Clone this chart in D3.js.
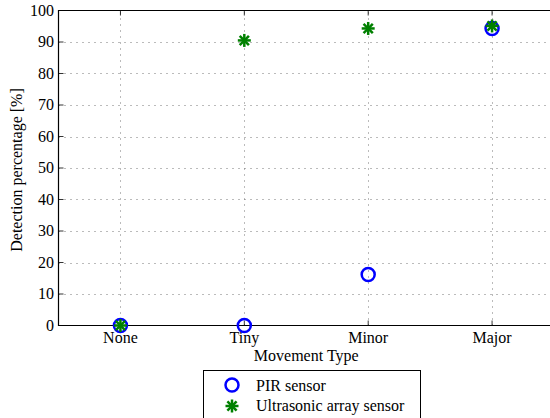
<!DOCTYPE html>
<html>
<head>
<meta charset="utf-8">
<script src="https://cdn.jsdelivr.net/npm/d3@7"></script>
<style>
  body { margin: 0; background: #fff; }
  svg { display: block; }
  svg text { font-family: "Liberation Serif", "Times New Roman", "DejaVu Serif", serif; }
</style>
</head>
<body>
<svg id="chart" width="550" height="418"></svg>
<script>
const categories = ["None", "Tiny", "Minor", "Major"];
const pirValues = [0, 0, 16.2, 94.3];
const ultrasonicValues = [0, 90.5, 94.3, 95.1];
const yTicks = [0, 10, 20, 30, 40, 50, 60, 70, 80, 90, 100];

const width = 550, height = 418;
const margin = { top: 10.5, right: -4, bottom: 92, left: 58.5 };
const fontSize = 16;

const svg = d3.select("#chart");

const x = d3.scaleLinear()
    .domain([0.5, categories.length + 0.5])
    .range([margin.left, width - margin.right]);

const y = d3.scaleLinear()
    .domain([0, 100])
    .range([height - margin.bottom - 0.5, margin.top]);

// grid lines
const grid = svg.append("g")
    .attr("stroke", "#777")
    .attr("stroke-width", 1)
    .attr("stroke-dasharray", "1,5");

grid.selectAll("line.h")
  .data(yTicks.slice(1, -1))
  .join("line")
    .attr("x1", margin.left)
    .attr("x2", width - margin.right)
    .attr("y1", d => Math.round(y(d)) + 0.5)
    .attr("y2", d => Math.round(y(d)) + 0.5);

grid.selectAll("line.v")
  .data(categories)
  .join("line")
    .attr("x1", (d, i) => Math.round(x(i + 1)) + 0.5)
    .attr("x2", (d, i) => Math.round(x(i + 1)) + 0.5)
    .attr("y1", y(0))
    .attr("y2", y(100));

// axis frame
const frame = svg.append("g")
    .attr("stroke", "#000")
    .attr("stroke-width", 1.2)
    .attr("fill", "none");

frame.append("path")
    .attr("d", `M${width - margin.right},${y(100)}H${margin.left}V${y(0)}H${width - margin.right}`);

// y ticks (inside)
frame.selectAll("line.yt")
  .data(yTicks)
  .join("line")
    .attr("x1", margin.left)
    .attr("x2", margin.left + 5)
    .attr("y1", d => y(d))
    .attr("y2", d => y(d))
    .attr("stroke-width", 0.8);

// x ticks (inside, top and bottom)
categories.forEach((c, i) => {
  frame.append("line")
      .attr("x1", x(i + 1)).attr("x2", x(i + 1))
      .attr("y1", y(0)).attr("y2", y(0) - 5)
      .attr("stroke-width", 0.8);
  frame.append("line")
      .attr("x1", x(i + 1)).attr("x2", x(i + 1))
      .attr("y1", y(100)).attr("y2", y(100) + 5)
      .attr("stroke-width", 0.8);
});

// tick labels
svg.append("g")
    .attr("font-size", fontSize)
    .attr("text-anchor", "end")
  .selectAll("text")
  .data(yTicks)
  .join("text")
    .attr("x", margin.left - 4.5)
    .attr("y", d => y(d) + 5)
    .text(d => d);

svg.append("g")
    .attr("font-size", fontSize)
    .attr("text-anchor", "middle")
  .selectAll("text")
  .data(categories)
  .join("text")
    .attr("x", (d, i) => x(i + 1))
    .attr("y", y(0) + 17)
    .text(d => d);

// axis titles
svg.append("text")
    .attr("x", (margin.left + width - margin.right) / 2)
    .attr("y", y(0) + 35)
    .attr("text-anchor", "middle")
    .attr("font-size", fontSize)
    .text("Movement Type");

svg.append("text")
    .attr("transform", `translate(21.5,${(y(0) + y(100)) / 2 + 2}) rotate(-90)`)
    .attr("text-anchor", "middle")
    .attr("font-size", fontSize)
    .text("Detection percentage [%]");

// markers
const circleR = 6.5;
const starR = 6.5;

function star(g, cx, cy) {
  d3.range(4).forEach(k => {
    const a = k * Math.PI / 4;
    g.append("line")
        .attr("x1", cx - starR * Math.cos(a))
        .attr("y1", cy - starR * Math.sin(a))
        .attr("x2", cx + starR * Math.cos(a))
        .attr("y2", cy + starR * Math.sin(a));
  });
}

svg.append("g")
    .attr("fill", "none")
    .attr("stroke", "#0000ff")
    .attr("stroke-width", 2.5)
  .selectAll("circle")
  .data(pirValues)
  .join("circle")
    .attr("cx", (d, i) => x(i + 1))
    .attr("cy", d => y(d))
    .attr("r", circleR);

const stars = svg.append("g")
    .attr("stroke", "#008000")
    .attr("stroke-width", 2.5);
ultrasonicValues.forEach((d, i) => star(stars, x(i + 1), y(d)));

// legend
const legend = svg.append("g").attr("font-size", fontSize);
legend.append("rect")
    .attr("x", 203.5)
    .attr("y", 370.5)
    .attr("width", 217)
    .attr("height", 60)
    .attr("fill", "#fff")
    .attr("stroke", "#000")
    .attr("stroke-width", 1);

legend.append("circle")
    .attr("cx", 232)
    .attr("cy", 385)
    .attr("r", circleR)
    .attr("fill", "none")
    .attr("stroke", "#0000ff")
    .attr("stroke-width", 2.5);
legend.append("text")
    .attr("x", 256)
    .attr("y", 390.5)
    .text("PIR sensor");

const legStar = legend.append("g")
    .attr("stroke", "#008000")
    .attr("stroke-width", 2.5);
star(legStar, 232, 406);
legend.append("text")
    .attr("x", 256)
    .attr("y", 411)
    .text("Ultrasonic array sensor");
</script>
</body>
</html>
